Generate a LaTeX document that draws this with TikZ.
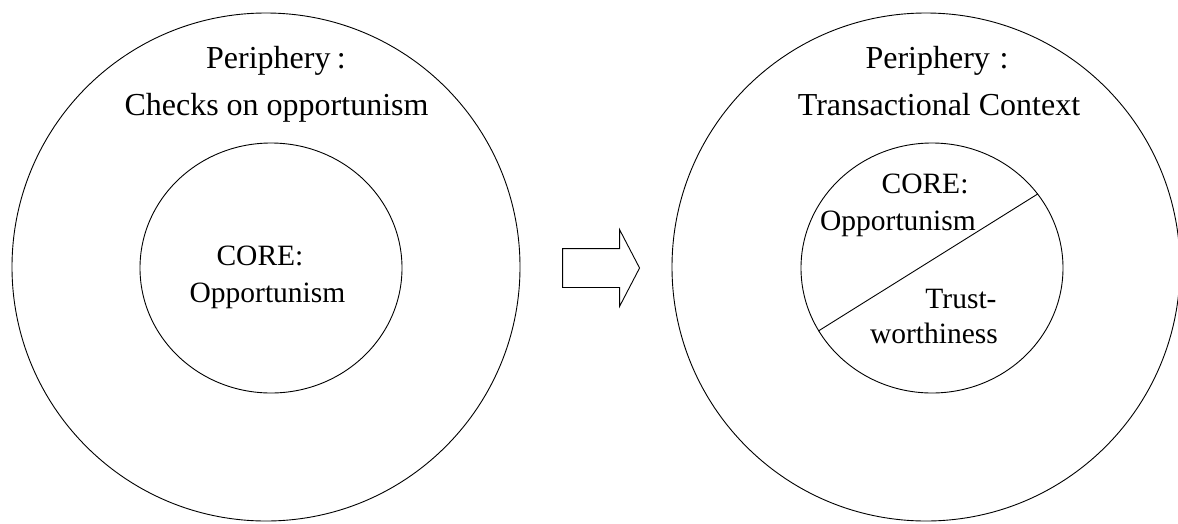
\documentclass[tikz,border=0pt]{standalone}
\usepackage{fontspec}
\setmainfont{Liberation Serif}
\usetikzlibrary{shapes.geometric,shapes.arrows}

\begin{document}
\begin{tikzpicture}[x=1pt, y=-1pt,
  ring/.style={draw, circle, line width=0.9pt, minimum size=508pt, inner sep=0pt},
  core/.style={draw, ellipse, line width=0.9pt, minimum width=262pt, minimum height=250pt, inner sep=0pt},
  big/.style={anchor=base, inner sep=0pt, font=\fontsize{32}{38}\selectfont},
  small/.style={anchor=base, inner sep=0pt, font=\fontsize{29.5}{35}\selectfont},
  blockarr/.style={draw, single arrow, line width=0.9pt, minimum height=77pt,
    inner xsep=0pt, inner ysep=19pt, single arrow head extend=19pt, single arrow tip angle=125}
]
\useasboundingbox (0,0) rectangle (1178,523);

% before
\node[ring] (outL) at (266,267) {};
\node[core] (coreL) at (271,268) {};
\node[big] (periL) at (276,68) {Periphery\hspace{.2em}:};
\node[big] (checksL) at (276.5,115) {Checks on opportunism};
\node[small] (coreLa) at (260,265) {CORE:};
\node[small] (coreLb) at (267.5,302) {Opportunism};

\node[blockarr] (go) at (596,268) {};

% after
\node[ring] (outR) at (926,267) {};
\node[core] (coreR) at (932,268) {};
\node[big] (periR) at (937,68) {Periphery\hspace{.3em}:};
\node[big] (ctxR) at (939,115) {Transactional Context};
\node[small] (coreRa) at (925,193) {CORE:};
\node[small] (coreRb) at (898,230) {Opportunism};
\node[small] (trustR) at (961,308) {Trust-};
\node[small] (worthR) at (934,343) {worthiness};

\draw[line width=0.9pt] (coreR.209) -- (coreR.35);
\end{tikzpicture}
\end{document}
